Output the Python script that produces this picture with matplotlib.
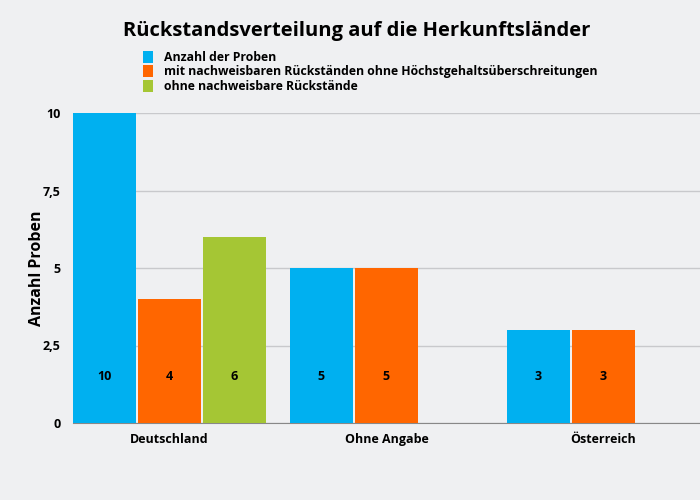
import numpy as np
import matplotlib.pyplot as plt
from matplotlib.patches import Patch

plt.rcParams['font.family'] = ['Open Sans', 'DejaVu Sans']

# daten
laender = ['Deutschland', 'Ohne Angabe', 'Österreich']
anzahl_proben = [10, 5, 3]
mit_rueckstaenden = [4, 5, 3]
ohne_rueckstaende = [6, None, None]

serien = ['Anzahl der Proben',
          'mit nachweisbaren Rückständen ohne Höchstgehaltsüberschreitungen',
          'ohne nachweisbare Rückstände']
farben = ['#00b0f0', '#ff6600', '#a5c634']
y_ticks = [0, 2.5, 5, 7.5, 10]
y_tick_labels = ['0', '2,5', '5', '7,5', '10']

bg = '#eff0f2'
fig = plt.figure(figsize=(7, 5), dpi=100, facecolor=bg)
ax = fig.add_axes([0.104, 0.154, 0.896, 0.62], facecolor=bg)

x = np.arange(len(laender))
breite = 0.29
abstand = 0.30

for i, (werte, farbe) in enumerate(zip([anzahl_proben, mit_rueckstaenden, ohne_rueckstaende], farben)):
    for xi, w in zip(x, werte):
        if w is None:
            continue
        pos = xi + (i - 1) * abstand
        ax.bar(pos, w, width=breite, color=farbe, zorder=3)
        ax.text(pos, 1.5, str(w), ha='center', va='center',
                fontsize=9, fontweight='bold', color='black', zorder=4)

ax.set_xlim(-abstand - breite / 2, 2 + abstand + breite / 2)
ax.set_ylim(0, 10)
ax.set_yticks(y_ticks)
ax.set_yticklabels(y_tick_labels, fontsize=9, fontweight='bold')
ax.set_xticks(x)
ax.set_xticklabels(laender, fontsize=9, fontweight='bold')
ax.tick_params(axis='both', length=0, pad=9)
ax.tick_params(axis='x', pad=7)

for spine in ['top', 'right', 'left']:
    ax.spines[spine].set_visible(False)
ax.spines['bottom'].set_color('#888888')
ax.grid(axis='y', color='#c8c9cc', linewidth=1, zorder=0)
ax.set_ylabel('Anzahl Proben', fontsize=11.5, fontweight='bold', labelpad=-2)

fig.text(0.51, 0.938, 'Rückstandsverteilung auf die Herkunftsländer',
         ha='center', va='center', fontsize=14.5, fontweight='bold')

handles = [Patch(facecolor=f, edgecolor='none') for f in farben]
fig.legend(handles, serien, loc='upper left', bbox_to_anchor=(0.197, 0.908),
           frameon=False, prop={'size': 8.8, 'weight': 'bold'},
           handlelength=0.8, handleheight=1.1, handletextpad=0.9,
           labelspacing=0.12, borderaxespad=0)

plt.savefig('out.png', dpi=100, facecolor=bg)
